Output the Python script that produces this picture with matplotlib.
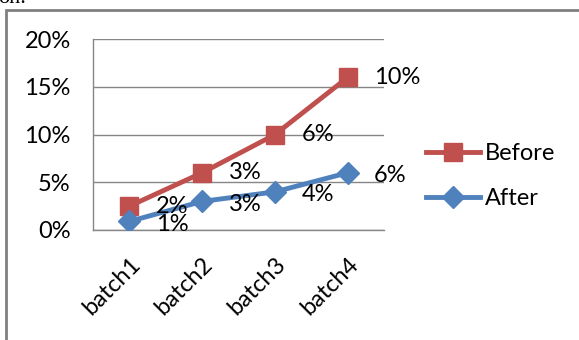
import matplotlib.pyplot as plt
from matplotlib.patches import Rectangle
from matplotlib.ticker import PercentFormatter

# data (stacked line chart: Before is drawn on top of After)
batches = ['batch1', 'batch2', 'batch3', 'batch4']
after = [0.009, 0.03, 0.04, 0.06]
before = [0.016, 0.03, 0.06, 0.10]
yticks = [0.0, 0.05, 0.10, 0.15, 0.20]

red = '#C0504D'
blue = '#4F81BD'
grid = '#868686'

plt.rcParams['font.family'] = ['Lato', 'DejaVu Sans']

fig = plt.figure(figsize=(5.79, 3.40), dpi=100)
ax = fig.add_axes([93 / 579, 1 - 230 / 340, 291 / 579, 190.7 / 340])

x = range(len(batches))
stacked = [a + b for a, b in zip(after, before)]

ax.plot(x, stacked, color=red, linewidth=3.5, marker='s', markersize=12.5,
        label='Before', zorder=3)
ax.plot(x, after, color=blue, linewidth=3.5, marker='D', markersize=11,
        label='After', zorder=3)

# data labels show the series value, not the stacked position
for i in x:
    ax.annotate('{:.0%}'.format(before[i]), (i, stacked[i]), xytext=(19, 0),
                textcoords='offset points', ha='left', va='center',
                fontsize=17, color='black', zorder=4)
    ax.annotate('{:.0%}'.format(after[i]), (i, after[i]), xytext=(19, -2),
                textcoords='offset points', ha='left', va='center',
                fontsize=17, color='black', zorder=4)

ax.set_xlim(-0.5, 3.5)
ax.set_ylim(0, 0.20)
ax.set_yticks(yticks)
ax.yaxis.set_major_formatter(PercentFormatter(1.0, decimals=0))
ax.set_xticks(list(x))
ax.set_xticklabels(batches, rotation=45, ha='right', rotation_mode='anchor')
ax.tick_params(axis='both', length=0, labelsize=17)
ax.tick_params(axis='y', pad=16)
ax.tick_params(axis='x', pad=17)

ax.grid(axis='y', color=grid, linewidth=1)
ax.set_axisbelow(True)
for side in ['top', 'right']:
    ax.spines[side].set_visible(False)
for side in ['left', 'bottom']:
    ax.spines[side].set_color(grid)
    ax.spines[side].set_linewidth(1)

ax.legend(loc='center left', bbox_to_anchor=(414 / 579, 1 - 176 / 340),
          bbox_transform=fig.transFigure, frameon=False, fontsize=17,
          handlelength=2.3, handletextpad=0.2, labelspacing=1.0,
          borderpad=0)

# chart frame and cut-off document text
fig.patches.append(Rectangle((6 / 579, -0.1), 1.1, 1 - 10 / 340 + 0.1,
                             transform=fig.transFigure, fill=False,
                             edgecolor='#808080', linewidth=2))
fig.text(-2 / 579, 1 - 3 / 340, 'on.', family='Liberation Serif',
         fontsize=16, ha='left', va='baseline')

fig.savefig('out.png', dpi=100)
